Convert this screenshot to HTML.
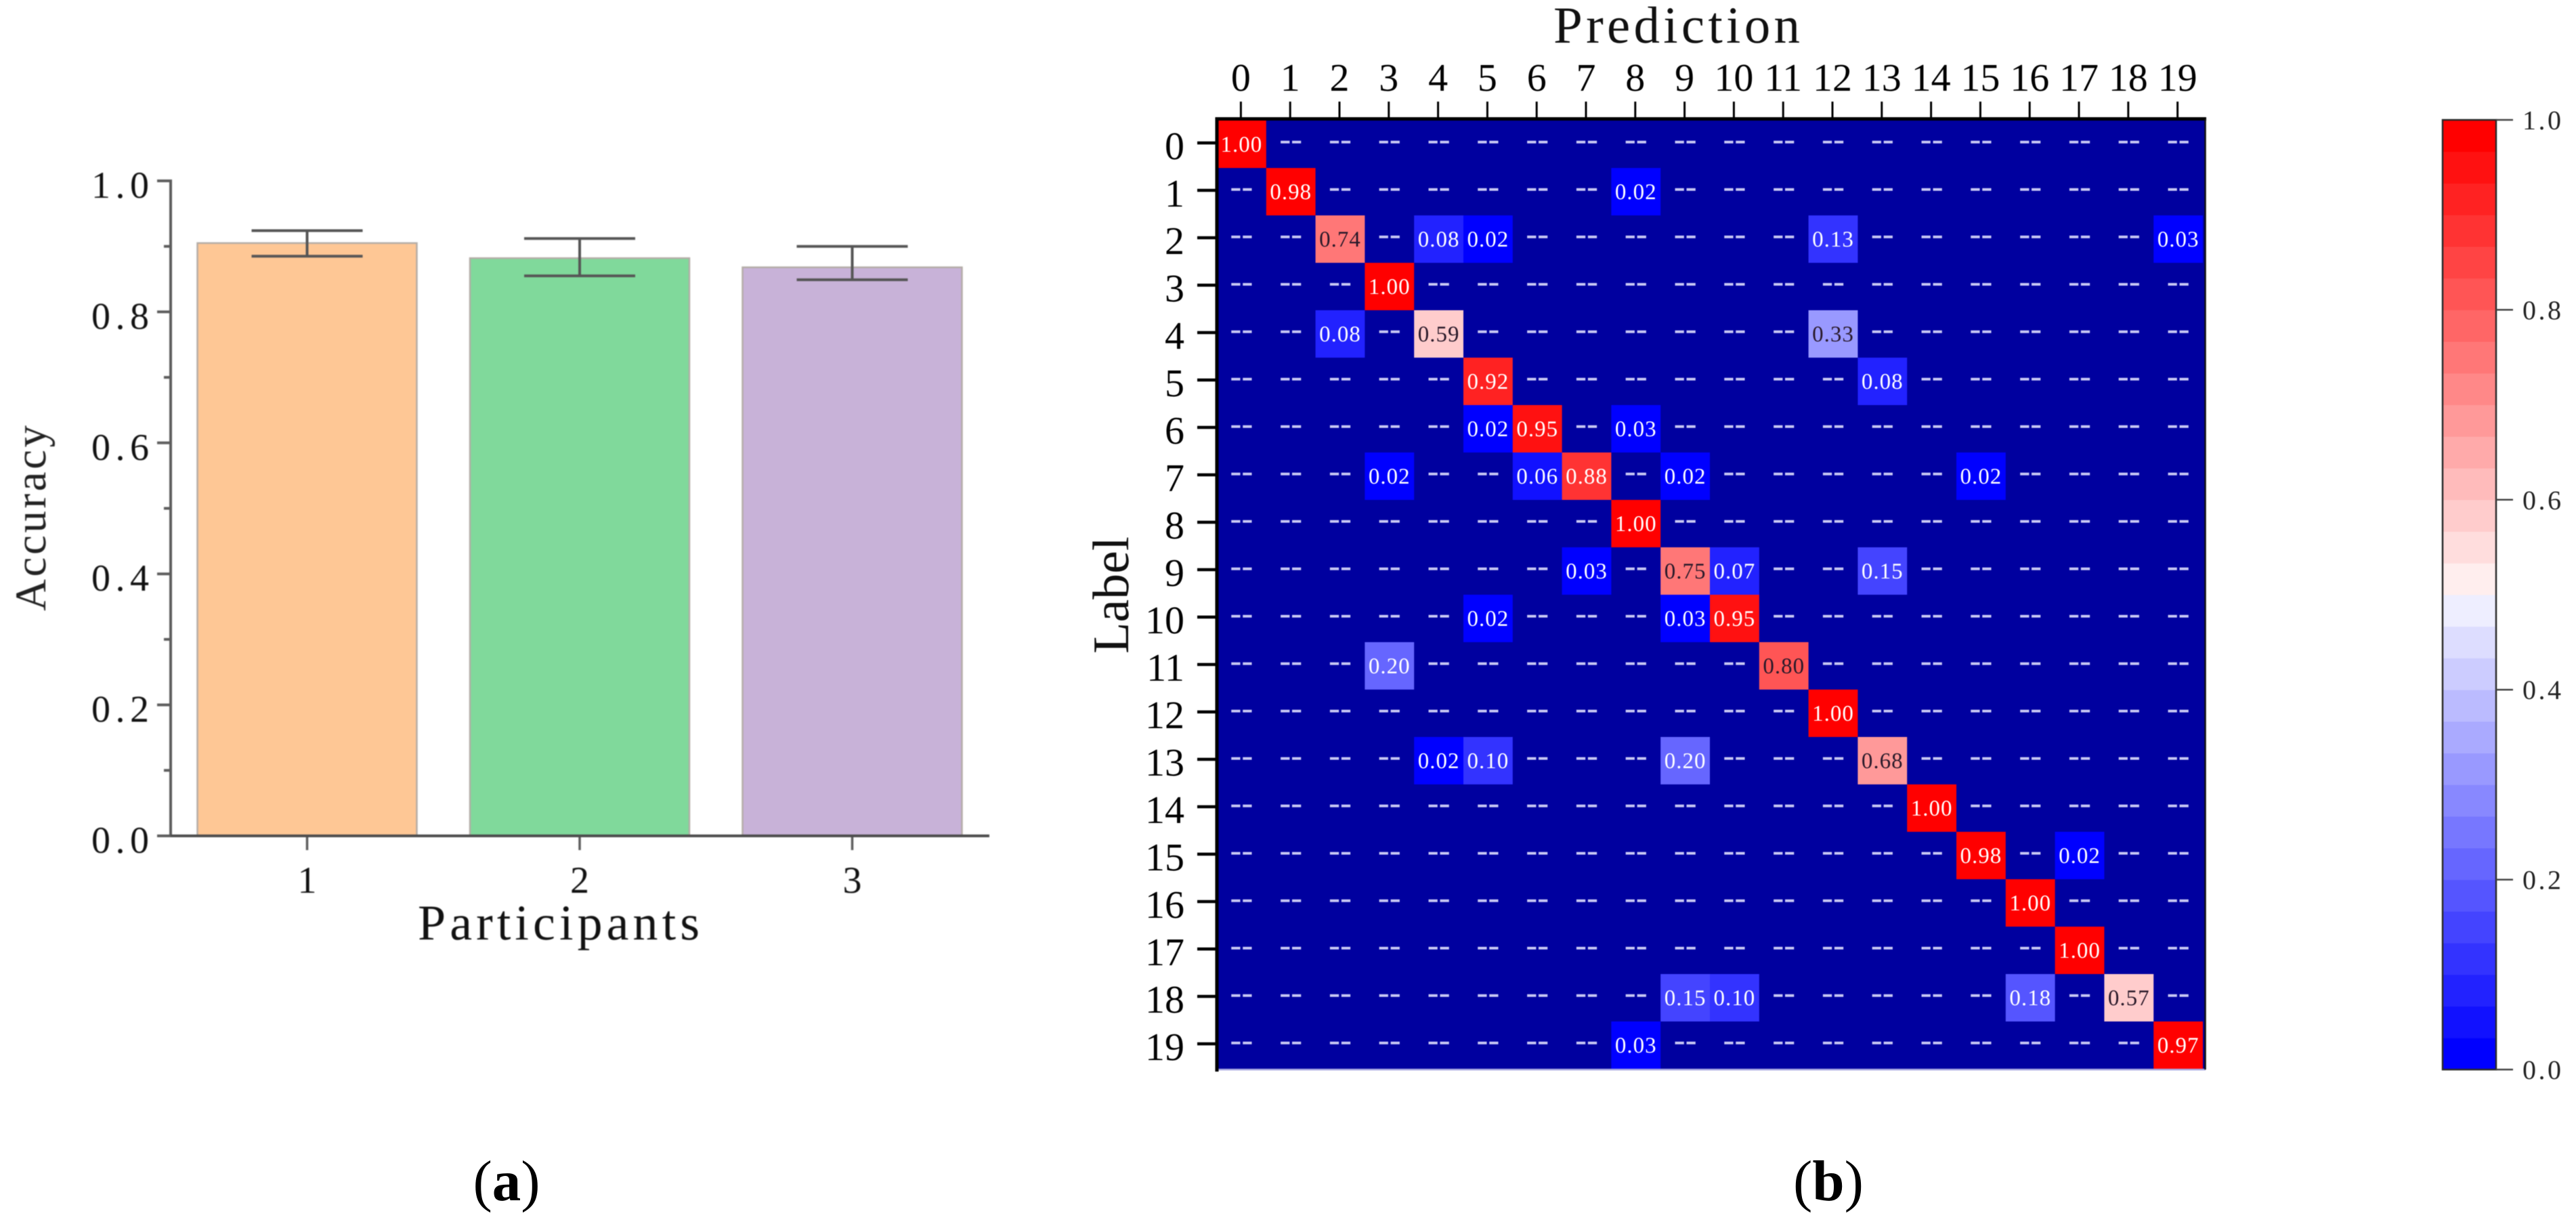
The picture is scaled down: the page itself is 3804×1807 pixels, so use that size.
<!DOCTYPE html>
<html lang="en">
<head>
<meta charset="utf-8">
<title>Accuracy bars and confusion matrix</title>
<style>
  html, body { margin: 0; padding: 0; background: #fff; }
  body { width: 3804px; height: 1807px; overflow: hidden; }
  svg { display: block; }
  text { font-family: "Liberation Serif", "DejaVu Serif", serif; text-rendering: geometricPrecision; }
</style>
</head>
<body>
<svg id="figure" xmlns="http://www.w3.org/2000/svg" width="3804" height="1807" viewBox="0 0 3804 1807">
  <rect x="0" y="0" width="3804" height="1807" fill="#ffffff"/>
  <g id="barChart" style="filter:blur(0.8px)">
    <text transform="translate(67,902) rotate(-90)" font-size="65" textLength="274" fill="#222222">Accuracy</text>
    <text x="617" y="1387" font-size="74" textLength="416" fill="#111111">Participants</text>
  </g>
  <g id="heatmap" style="filter:blur(0.6px)">
    <text x="2294" y="63" font-size="77" textLength="364" fill="#111111">Prediction</text>
    <text transform="translate(1666,965) rotate(-90)" font-size="76" textLength="173" fill="#111111">Label</text>
  </g>
  <g id="colorbar" style="filter:blur(0.5px)"></g>
  <text x="748" y="1772" font-size="85" text-anchor="middle" fill="#000000">(<tspan font-weight="bold">a</tspan>)</text>
  <text x="2700" y="1772" font-size="85" text-anchor="middle" fill="#000000">(<tspan font-weight="bold">b</tspan>)</text>
</svg>
<script>
// ---- Bar chart data ----
const participants = ["1", "2", "3"];
const accuracyMeans = [0.905, 0.882, 0.868];
const errorUpper = [0.924, 0.912, 0.900];
const errorLower = [0.885, 0.855, 0.849];
const barColors = ["#fec795", "#80d99b", "#c8b2d8"];
const accuracyMajorTicks = [0, 0.2, 0.4, 0.6, 0.8, 1.0];
const accuracyMinorTicks = [0.1, 0.3, 0.5, 0.7, 0.9];

// ---- Confusion matrix data (0 is printed as "--") ----
const classLabels = ["0","1","2","3","4","5","6","7","8","9","10","11","12","13","14","15","16","17","18","19"];
const confusion = [
  [1.00,0,0,0,0,0,0,0,0,0,0,0,0,0,0,0,0,0,0,0],
  [0,0.98,0,0,0,0,0,0,0.02,0,0,0,0,0,0,0,0,0,0,0],
  [0,0,0.74,0,0.08,0.02,0,0,0,0,0,0,0.13,0,0,0,0,0,0,0.03],
  [0,0,0,1.00,0,0,0,0,0,0,0,0,0,0,0,0,0,0,0,0],
  [0,0,0.08,0,0.59,0,0,0,0,0,0,0,0.33,0,0,0,0,0,0,0],
  [0,0,0,0,0,0.92,0,0,0,0,0,0,0,0.08,0,0,0,0,0,0],
  [0,0,0,0,0,0.02,0.95,0,0.03,0,0,0,0,0,0,0,0,0,0,0],
  [0,0,0,0.02,0,0,0.06,0.88,0,0.02,0,0,0,0,0,0.02,0,0,0,0],
  [0,0,0,0,0,0,0,0,1.00,0,0,0,0,0,0,0,0,0,0,0],
  [0,0,0,0,0,0,0,0.03,0,0.75,0.07,0,0,0.15,0,0,0,0,0,0],
  [0,0,0,0,0,0.02,0,0,0,0.03,0.95,0,0,0,0,0,0,0,0,0],
  [0,0,0,0.20,0,0,0,0,0,0,0,0.80,0,0,0,0,0,0,0,0],
  [0,0,0,0,0,0,0,0,0,0,0,0,1.00,0,0,0,0,0,0,0],
  [0,0,0,0,0.02,0.10,0,0,0,0.20,0,0,0,0.68,0,0,0,0,0,0],
  [0,0,0,0,0,0,0,0,0,0,0,0,0,0,1.00,0,0,0,0,0],
  [0,0,0,0,0,0,0,0,0,0,0,0,0,0,0,0.98,0,0.02,0,0],
  [0,0,0,0,0,0,0,0,0,0,0,0,0,0,0,0,1.00,0,0,0],
  [0,0,0,0,0,0,0,0,0,0,0,0,0,0,0,0,0,1.00,0,0],
  [0,0,0,0,0,0,0,0,0,0.15,0.10,0,0,0,0,0,0.18,0,0.57,0],
  [0,0,0,0,0,0,0,0,0.03,0,0,0,0,0,0,0,0,0,0,0.97]
];

// ---- Colorbar data ----
const colorbarTicks = [0, 0.2, 0.4, 0.6, 0.8, 1.0];
const colorLevels = 30;

const NS = "http://www.w3.org/2000/svg";
function mk(tag, attrs, parent, txt) {
  const el = document.createElementNS(NS, tag);
  for (const k in attrs) el.setAttribute(k, attrs[k]);
  if (txt !== undefined) el.textContent = txt;
  parent.appendChild(el);
  return el;
}

// ---- Bar chart ----
const barG = document.getElementById("barChart");
const accY = v => 1234 - 967 * v;
const partX = i => 453.5 + 402.5 * i;
const barW = 324;
const axisCol = "#5c5c5c";

participants.forEach((p, i) => {
  const top = accY(accuracyMeans[i]);
  const bar = mk("rect", {x: partX(i) - barW / 2, y: top, width: barW, height: accY(0) - top, fill: barColors[i], stroke: "#b3aca6", "stroke-width": 2.5}, barG);
  
  
});
participants.forEach((p, i) => {
  const cx = partX(i), hi = accY(errorUpper[i]), lo = accY(errorLower[i]);
  const stem = mk("line", {x1: cx, x2: cx, y1: hi, y2: lo, stroke: "#555", "stroke-width": 4}, barG);
  
  
  const capHi = mk("line", {x1: cx - 82, x2: cx + 82, y1: hi, y2: hi, stroke: "#555", "stroke-width": 4}, barG);
  
  
  const capLo = mk("line", {x1: cx - 82, x2: cx + 82, y1: lo, y2: lo, stroke: "#555", "stroke-width": 4}, barG);
  
  
  const tick = mk("line", {x1: cx, x2: cx, y1: accY(0), y2: accY(0) + 21, stroke: axisCol, "stroke-width": 3.5}, barG);
  
  
  const lab = mk("text", {x: cx, y: 1318, "font-size": 56, "text-anchor": "middle", fill: "#111"}, barG, p);
  
  
});
const yAxisLine = mk("line", {x1: 252, x2: 252, y1: accY(1) - 2, y2: accY(0) + 2, stroke: axisCol, "stroke-width": 4}, barG);


const xAxisLine = mk("line", {x1: 232, x2: 1461, y1: accY(0), y2: accY(0), stroke: "#4c4c4c", "stroke-width": 4}, barG);


accuracyMajorTicks.forEach(v => {
  const t = mk("line", {x1: 232, x2: 252, y1: accY(v), y2: accY(v), stroke: axisCol, "stroke-width": 4}, barG);
  
  
  const l = mk("text", {x: 227.5, y: accY(v) + 25, "font-size": 56, "text-anchor": "end", "letter-spacing": 7.5, fill: "#111"}, barG, v.toFixed(1));
  
  
});
accuracyMinorTicks.forEach(v => {
  const t = mk("line", {x1: 242, x2: 252, y1: accY(v), y2: accY(v), stroke: axisCol, "stroke-width": 4}, barG);
  
  
});

// ---- Shared colour scale ----
function bandColor(idx) {
  if (idx < colorLevels / 2) {
    const c = 17 * idx;
    return "rgb(" + c + "," + c + ",255)";
  }
  const c = 17 * (colorLevels - 1 - idx);
  return "rgb(255," + c + "," + c + ")";
}
const valueColor = v => bandColor(Math.min(colorLevels - 1, Math.floor(v * colorLevels)));

// ---- Confusion matrix ----
const hm = document.getElementById("heatmap");
const colX = c => 1797 + 72.8 * c;
const rowY = r => 178 + 70 * r;
const colW = 72.8, rowH = 70;

const hmBg = mk("rect", {x: 1797, y: 175, width: 1460, height: 1404, fill: "#00009f"}, hm);


confusion.forEach((row, r) => {
  row.forEach((v, c) => {
    const cx = colX(c) + colW / 2, cy = rowY(r) + rowH / 2;
    if (v > 0) {
      const cell = mk("rect", {x: colX(c), y: rowY(r), width: colW, height: rowH, fill: valueColor(v)}, hm);
      
      
      const dark = v > 0.3 && v < 0.85;
      const txt = mk("text", {x: cx, y: cy + 11, "font-size": 33, "text-anchor": "middle", "letter-spacing": 1, fill: dark ? "#2a1a2a" : "#ffffff"}, hm, v.toFixed(2));
      
      
    } else {
      const dash = mk("text", {x: cx, y: cy + 9, "font-size": 52, "text-anchor": "middle", textLength: 34, lengthAdjust: "spacingAndGlyphs", fill: "#c8c8f4"}, hm, "--");
      
      
    }
  });
});
classLabels.forEach((lab, i) => {
  const tx = colX(i) + colW / 2 - 1, ty = rowY(i) + rowH / 2 - 2;
  const tt = mk("line", {x1: tx, x2: tx, y1: 150, y2: 175, stroke: "#000", "stroke-width": 3}, hm);
  
  
  const tl = mk("text", {x: tx, y: 134, "font-size": 58, "text-anchor": "middle", fill: "#000"}, hm, lab);
  
  
  const lt = mk("line", {x1: 1768, x2: 1797, y1: ty, y2: ty, stroke: "#000", "stroke-width": 4.5}, hm);
  
  
  const ll = mk("text", {x: 1749, y: ty + 24, "font-size": 58, "text-anchor": "end", fill: "#000"}, hm, lab);
  
  
});
const frameBottom = mk("line", {x1: 1797, x2: 3257, y1: 1579, y2: 1579, stroke: "#a8a8e0", "stroke-width": 2.5}, hm);


const frameTop = mk("line", {x1: 1795, x2: 3258, y1: 175.5, y2: 175.5, stroke: "#000", "stroke-width": 5}, hm);


const frameLeft = mk("line", {x1: 1797, x2: 1797, y1: 173, y2: 1582, stroke: "#000", "stroke-width": 5}, hm);


const frameRight = mk("line", {x1: 3256.5, x2: 3256.5, y1: 175, y2: 1579, stroke: "#111", "stroke-width": 2.5}, hm);



// ---- Colorbar ----
const cb = document.getElementById("colorbar");
const cbY = v => 1579 - 1402 * v;
for (let i = 0; i < colorLevels; i++) {
  const y0 = cbY((i + 1) / colorLevels), y1 = cbY(i / colorLevels);
  const band = mk("rect", {x: 3607, y: y0, width: 79, height: y1 - y0 + 0.5, fill: bandColor(i)}, cb);
  
  
}
const cbFrame = mk("rect", {x: 3607, y: cbY(1), width: 79, height: cbY(0) - cbY(1), fill: "none", stroke: "#2a2a2a", "stroke-width": 2.5}, cb);


colorbarTicks.forEach(v => {
  const t = mk("line", {x1: 3686, x2: 3711, y1: cbY(v), y2: cbY(v), stroke: "#444", "stroke-width": 2.5}, cb);
  
  
  const l = mk("text", {x: 3725, y: cbY(v) + 14, "font-size": 40, "letter-spacing": 3.5, fill: "#222"}, cb, v.toFixed(1));
  
  
});
</script>
</body>
</html>
